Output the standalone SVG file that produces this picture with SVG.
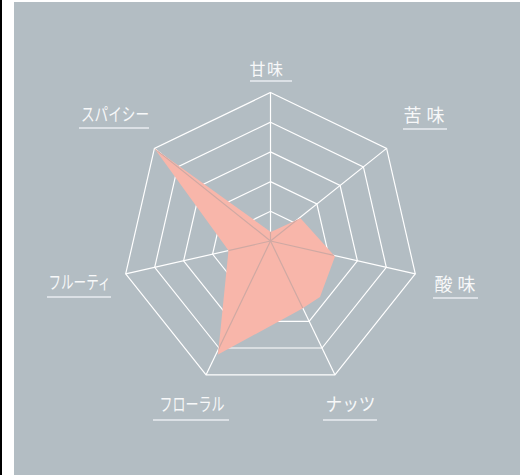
<svg xmlns="http://www.w3.org/2000/svg" width="520" height="475" viewBox="0 0 520 475">
  <defs>
    <style>
      .ring { fill: none; stroke: #ffffff; stroke-width: 1.2; stroke-linejoin: miter; }
      .spoke { stroke: #ffffff; stroke-width: 1.2; }
      .spoke-in { stroke: #cfa9a3; stroke-width: 1.2; }
      .lbl { font-family: "Noto Sans CJK JP", "Noto Sans", sans-serif; font-size: 18px; fill: #f7f8f9; }
      .kanji { letter-spacing: 5px; }
      .ul { stroke: #e9edf0; stroke-width: 1.5; }
    </style>
    <clipPath id="dataClip">
      <polygon points="154.5,148.5 270.8,232 300.5,218.3 335,256.5 320,297 301.5,309 218,354.5 228.5,250.5"/>
    </clipPath>
  </defs>

  <rect x="0" y="0" width="520" height="475" fill="#ffffff"/>
  <rect x="0" y="0" width="2" height="475" fill="#000000"/>
  <rect x="14" y="2" width="506" height="473" fill="#b3bdc3"/>

  <g id="grid">
    <polygon class="ring" points="270.5,92.5 386.6,148.4 415.3,273.9 334.9,374.8 206.1,374.8 125.7,273.9 154.4,148.4"/>
    <polygon class="ring" points="270.5,122.2 363.4,166.9 386.3,267.3 322.0,348.0 219.0,348.0 154.7,267.3 177.6,166.9"/>
    <polygon class="ring" points="270.5,151.9 340.1,185.5 357.4,260.8 309.1,321.3 231.9,321.3 183.6,260.8 200.9,185.5"/>
    <polygon class="ring" points="270.5,181.6 316.9,204.0 328.4,254.2 296.3,294.5 244.7,294.5 212.6,254.2 224.1,204.0"/>
    <polygon class="ring" points="270.5,211.3 293.7,222.5 299.5,247.6 283.4,267.8 257.6,267.8 241.5,247.6 247.3,222.5"/>
  </g>

  <g id="connectors">
    <line class="spoke" x1="270.5" y1="241" x2="270.5" y2="92.5"/>
    <line class="spoke" x1="270.5" y1="241" x2="386.6" y2="148.4"/>
    <line class="spoke" x1="270.5" y1="241" x2="415.3" y2="273.9"/>
    <line class="spoke" x1="270.5" y1="241" x2="334.9" y2="374.8"/>
    <line class="spoke" x1="270.5" y1="241" x2="206.1" y2="374.8"/>
    <line class="spoke" x1="270.5" y1="241" x2="125.7" y2="273.9"/>
    <line class="spoke" x1="270.5" y1="241" x2="154.4" y2="148.4"/>
  </g>

  <g id="data">
    <polygon points="154.5,148.5 270.8,232 300.5,218.3 335,256.5 320,297 301.5,309 218,354.5 228.5,250.5" fill="#f8b6aa"/>
    <g clip-path="url(#dataClip)">
      <line class="spoke-in" x1="270.5" y1="241" x2="270.5" y2="92.5"/>
      <line class="spoke-in" x1="270.5" y1="241" x2="386.6" y2="148.4"/>
      <line class="spoke-in" x1="270.5" y1="241" x2="415.3" y2="273.9"/>
      <line class="spoke-in" x1="270.5" y1="241" x2="334.9" y2="374.8"/>
      <line class="spoke-in" x1="270.5" y1="241" x2="206.1" y2="374.8"/>
      <line class="spoke-in" x1="270.5" y1="241" x2="125.7" y2="273.9"/>
      <line class="spoke-in" x1="270.5" y1="241" x2="154.4" y2="148.4"/>
    </g>
  </g>

  <g id="label-amami">
    <text class="lbl" x="249.5" y="74.5" style="font-size:16px;letter-spacing:1.5px">甘味</text>
    <line class="ul" x1="250" y1="81" x2="292" y2="81"/>
  </g>
  <g id="label-nigami">
    <text class="lbl kanji" x="403.5" y="122">苦味</text>
    <line class="ul" x1="403" y1="129" x2="447" y2="129"/>
  </g>
  <g id="label-sanmi">
    <text class="lbl kanji" x="434.5" y="291">酸味</text>
    <line class="ul" x1="433" y1="298" x2="478" y2="298"/>
  </g>
  <g id="label-nuts">
    <text class="lbl" x="325.5" y="411" textLength="50" lengthAdjust="spacingAndGlyphs">ナッツ</text>
    <line class="ul" x1="323" y1="420" x2="377" y2="420"/>
  </g>
  <g id="label-floral">
    <text class="lbl" x="159.5" y="411" textLength="65" lengthAdjust="spacingAndGlyphs">フローラル</text>
    <line class="ul" x1="153" y1="420" x2="229" y2="420"/>
  </g>
  <g id="label-fruity">
    <text class="lbl" x="48.5" y="288.5" textLength="62" lengthAdjust="spacingAndGlyphs">フルーティ</text>
    <line class="ul" x1="47" y1="297" x2="111" y2="297"/>
  </g>
  <g id="label-spicy">
    <text class="lbl" x="81" y="121" textLength="68" lengthAdjust="spacingAndGlyphs">スパイシー</text>
    <line class="ul" x1="79" y1="128" x2="149" y2="128"/>
  </g>
</svg>
